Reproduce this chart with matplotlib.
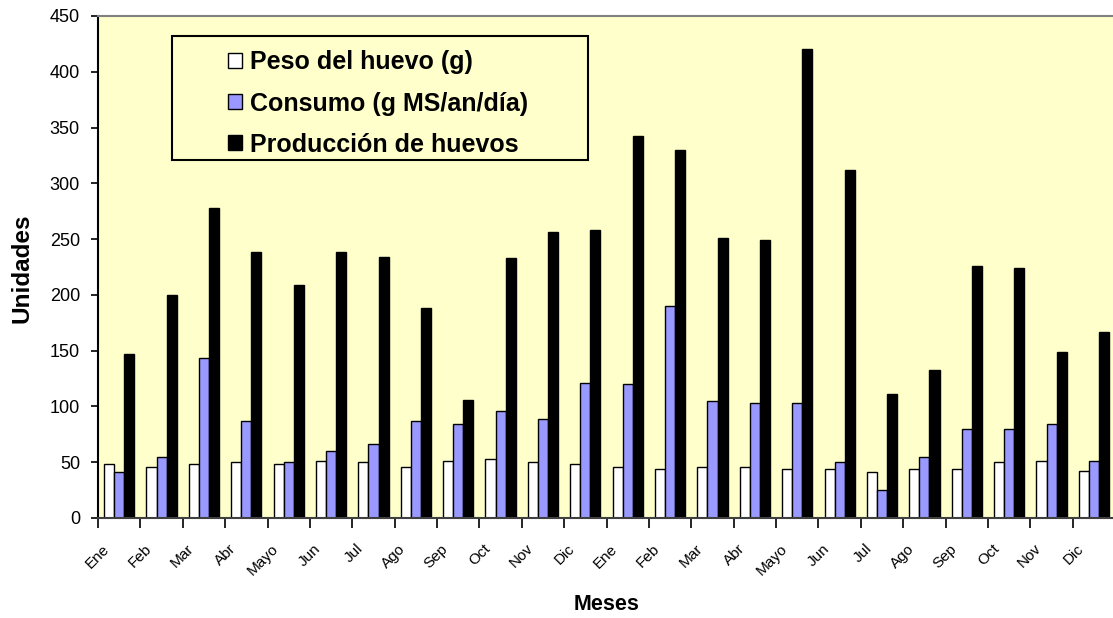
import numpy as np
import matplotlib
matplotlib.use("Agg")
import matplotlib.pyplot as plt
from matplotlib.patches import Rectangle

plt.rcParams['font.family'] = ['Liberation Sans', 'DejaVu Sans']

months = ["Ene", "Feb", "Mar", "Abr", "Mayo", "Jun", "Jul", "Ago", "Sep", "Oct", "Nov", "Dic",
          "Ene", "Feb", "Mar", "Abr", "Mayo", "Jun", "Jul", "Ago", "Sep", "Oct", "Nov", "Dic"]

peso = [48, 46, 48, 50, 48, 51, 50, 46, 51, 53, 50, 48,
        46, 44, 46, 46, 44, 44, 41, 44, 44, 50, 51, 42]
consumo = [41, 55, 143, 87, 50, 60, 66, 87, 84, 96, 89, 121,
           120, 190, 105, 103, 103, 50, 25, 55, 80, 80, 84, 51]
produccion = [147, 200, 278, 238, 209, 238, 234, 188, 106, 233, 256, 258,
              342, 330, 251, 249, 420, 312, 111, 133, 226, 224, 149, 167]

series_names = ["Peso del huevo (g)", "Consumo (g MS/an/día)", "Producción de huevos"]
colors = ["#FFFFFF", "#9999FF", "#000000"]
yticks = np.arange(0, 451, 50)


def main():
    fig = plt.figure(figsize=(11.13, 6.18), dpi=100)
    W, H = 1113, 618
    ax = fig.add_axes([98 / W, 1 - 518 / H, (W - 98) / W, (518 - 16) / H])
    ax.set_facecolor("#FFFFCC")

    x = np.arange(len(months))
    w = 0.238
    bars = []
    for i, (vals, c) in enumerate(zip([peso, consumo, produccion], colors)):
        b = ax.bar(x + (i - 1) * w, vals, w, color=c, edgecolor="black", linewidth=1.0,
                   label=series_names[i])
        bars.append(b)

    ax.set_xlim(-0.5, 23.45)
    ax.set_ylim(0, 450)
    ax.set_yticks(yticks)
    ax.set_yticklabels([str(v) for v in yticks], fontsize=13)
    ax.tick_params(axis="y", direction="out", length=5, width=1.2, pad=8)

    # ticks at group boundaries, labels near group centres
    ax.set_xticks(np.arange(-0.5, 23.5, 1))
    ax.set_xticklabels([])
    ax.tick_params(axis="x", which="major", direction="out", length=7, width=1.2)
    ax.set_xticks(x - 0.41, minor=True)
    ax.set_xticklabels(months, minor=True, fontsize=11, rotation=45, ha="right",
                       rotation_mode="anchor")
    ax.tick_params(axis="x", which="minor", length=0, pad=17)

    ax.spines["right"].set_visible(False)
    ax.spines["top"].set_color("#808080")
    ax.spines["top"].set_linewidth(1.5)
    ax.spines["left"].set_linewidth(1.5)
    ax.spines["bottom"].set_linewidth(1.5)
    ax.spines["bottom"].set_color("#404040")

    fig.text(22 / W, 1 - 268 / H, "Unidades", rotation=90, fontsize=17.5, fontweight="bold",
             ha="center", va="center")
    fig.text(607 / W, 1 - 605 / H, "Meses", fontsize=15.5, fontweight="bold",
             ha="center", va="center")

    # legend frame drawn separately, legend entries inside it
    fig.patches.append(Rectangle((172 / W, 1 - 160 / H), (588 - 172) / W, (160 - 36) / H,
                                 transform=fig.transFigure, facecolor="#FFFFCC",
                                 edgecolor="black", linewidth=1.5, zorder=5))
    leg = fig.legend(handles=bars, labels=series_names, loc="upper left",
                     bbox_to_anchor=(205 / W, 1 - 28 / H), frameon=False,
                     prop={"size": 18, "weight": "bold"}, handlelength=0.56,
                     handleheight=0.56, handletextpad=0.32, labelspacing=0.68)
    leg.set_zorder(6)

    fig.savefig("out.png", dpi=100)


if __name__ == '__main__':
    main()
